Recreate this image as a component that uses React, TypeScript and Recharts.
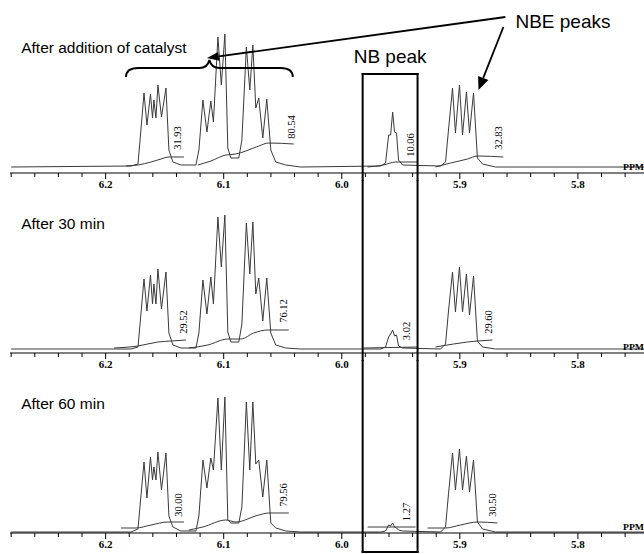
import React from 'react';
import { LineChart, Line, XAxis, YAxis, ReferenceLine, ReferenceDot } from 'recharts';

// Shared chemical-shift vertices (ppm) of the traced spectra
const ppm = [
  6.28, 6.1785, 6.1726, 6.1701, 6.1675, 6.165, 6.162, 6.1603, 6.1591, 6.1574,
  6.1557, 6.1527, 6.1489, 6.1464, 6.143, 6.1362, 6.1235, 6.121, 6.1176, 6.1142,
  6.1109, 6.1087, 6.1049, 6.102, 6.099, 6.0965, 6.0939, 6.0872, 6.0846, 6.0808,
  6.0779, 6.0753, 6.0728, 6.0703, 6.0669, 6.0635, 6.0601, 6.0559, 6.0474, 6.0347,
  5.9671, 5.9629, 5.9603, 5.9586, 5.9569, 5.9553, 5.9536, 5.9519, 5.9485, 5.9163,
  5.9121, 5.9096, 5.9062, 5.9037, 5.9003, 5.8977, 5.8944, 5.8918, 5.8884, 5.8851,
  5.8808, 5.8698, 5.744,
];

// Intensities (arbitrary units) for each spectrum
const spectrumCatalyst = [
  0, 1, 3, 37, 74, 42, 73, 49, 67, 49,
  82, 50, 79, 17, 5, 2, 2, 17, 67, 35,
  66, 45, 130, 82, 133, 19, 9, 9, 27, 120,
  77, 122, 59, 69, 29, 68, 17, 5, 2, 0,
  1, 4, 32, 32, 55, 35, 34, 7, 2, 1,
  5, 37, 79, 34, 82, 32, 75, 34, 74, 9,
  3, 0, 0,
];
const spectrum30 = [
  0, 0, 2, 35, 70, 38, 74, 45, 65, 45,
  80, 40, 77, 16, 4, 1, 1, 16, 69, 35,
  72, 45, 132, 82, 134, 17, 7, 7, 25, 126,
  75, 127, 55, 71, 28, 71, 16, 4, 1, 0,
  0, 2, 12, 15, 19, 13, 14, 3, 1, 0,
  5, 38, 77, 37, 82, 37, 75, 34, 73, 8,
  2, 0, 0,
];
const spectrum60 = [
  0, 0, 3, 36, 70, 34, 75, 52, 65, 52,
  80, 42, 79, 16, 5, 1, 1, 16, 72, 44,
  74, 62, 134, 62, 135, 12, 9, 9, 25, 130,
  62, 130, 68, 72, 35, 72, 9, 4, 1, 0,
  0, 1, 7, 6, 9, 5, 4, 2, 1, 0,
  5, 38, 79, 42, 83, 42, 76, 40, 72, 10,
  3, 0, 0,
];

// Integral traces [ppm, value]
const intCatA = [[6.1827, 1], [6.1726, 2], [6.1616, 5], [6.1531, 8], [6.1464, 10], [6.1337, 10]];
const intCatB = [[6.1219, 2], [6.1109, 6], [6.0982, 12], [6.0897, 13], [6.0813, 16], [6.0703, 21], [6.0618, 24], [6.0407, 23]];
const intCatNB = [[5.9781, 0], [5.9646, 2], [5.9544, 5], [5.9358, 5]];
const intCatNBE = [[5.9206, 0], [5.9079, 4], [5.8935, 8], [5.8851, 11], [5.8631, 10]];

const int30A = [[6.1929, 1], [6.1726, 3], [6.1557, 7], [6.1447, 8], [6.132, 9]];
const int30B = [[6.1295, 1], [6.1134, 4], [6.0965, 10], [6.0855, 10], [6.0745, 16], [6.0627, 19], [6.0449, 19]];
const int30NB = [[5.9815, 1], [5.9358, 2]];
const int30NBE = [[5.9206, 2], [5.9054, 5], [5.8935, 7], [5.8851, 8], [5.8724, 9]];

const int60A = [[6.187, 4], [6.1743, 4], [6.1616, 7], [6.1472, 10], [6.1337, 10]];
const int60B = [[6.1295, 2], [6.1176, 5], [6.0982, 12], [6.0897, 10], [6.0703, 17], [6.0618, 19], [6.0449, 19]];
const int60NB = [[5.9781, 5], [5.9375, 5]];
const int60NBE = [[5.9273, 4], [5.9121, 4], [5.8994, 7], [5.8851, 10], [5.8681, 9]];

// Integral values printed on the spectra
const valuesCatalyst = ['31.93', '80.54', '10.06', '32.83'];
const values30 = ['29.52', '76.12', '3.02', '29.60'];
const values60 = ['30.00', '79.56', '1.27', '30.50'];

// Axis ticks (ppm)
const axisTicks = [
  6.28, 6.26, 6.24, 6.22, 6.2, 6.18, 6.16, 6.14, 6.12, 6.1, 6.08, 6.06, 6.04, 6.02,
  6.0, 5.98, 5.96, 5.94, 5.92, 5.9, 5.88, 5.86, 5.84, 5.82, 5.8, 5.78, 5.76,
];

const captions = ['After addition of catalyst', 'After 30 min', 'After 60 min'];

// ---------- annotation anchors (data coordinates) ----------
const valueAnchors = [
  [[6.1388, 29], [6.0424, 40], [5.9417, 22], [5.8673, 29]],
  [[6.1337, 27], [6.0491, 38], [5.9451, 18], [5.8758, 27]],
  [[6.1379, 27], [6.0491, 37], [5.9451, 20], [5.8724, 27]],
];
const captionAnchors = [[6.2715, 114], [6.2715, 120], [6.2715, 123]];
const boxLeft = 5.9823;
const boxRight = 5.9358;

const SERIF = '"Liberation Serif", "Times New Roman", serif';
const SANS = '"Liberation Sans", Arial, sans-serif';
const X_DOMAIN: [number, number] = [5.744, 6.281];

const renderTick = (props: any) => {
  const { x, y, payload } = props;
  const v = payload.value as number;
  const major = Math.abs(v * 10 - Math.round(v * 10)) < 1e-6;
  return (
    <g>
      <line x1={x} x2={x} y1={y} y2={y + (major ? 6 : 4)} stroke="#000" strokeWidth={1} />
      {major && (
        <text x={x} y={y + 15} textAnchor="middle" fontFamily={SERIF} fontWeight="bold" fontSize={11} fill="#000">
          {v.toFixed(1)}
        </text>
      )}
    </g>
  );
};

const textShape = (text: string, size: number, family: string, anchor: string, extra: any = {}) => (p: any) => (
  <text x={p.cx} y={p.cy} fontSize={size} fontFamily={family} textAnchor={anchor} fill="#000" {...extra}>
    {text}
  </text>
);

const rotatedShape = (text: string) => (p: any) => (
  <text
    x={p.cx}
    y={p.cy}
    transform={`rotate(-90 ${p.cx} ${p.cy})`}
    textAnchor="middle"
    dominantBaseline="central"
    fontSize={10.5}
    fontFamily={SERIF}
    fill="#000"
  >
    {text}
  </text>
);

const arrowShape = (headLen: number, headHalf: number) => (p: any) => {
  const { x1, y1, x2, y2 } = p;
  const dx = x2 - x1;
  const dy = y2 - y1;
  const len = Math.hypot(dx, dy) || 1;
  const ux = dx / len;
  const uy = dy / len;
  const bx = x2 - ux * headLen;
  const by = y2 - uy * headLen;
  const pts = `${x2},${y2} ${bx - uy * headHalf},${by + ux * headHalf} ${bx + uy * headHalf},${by - ux * headHalf}`;
  return (
    <g>
      <line x1={x1} y1={y1} x2={bx} y2={by} stroke="#000" strokeWidth={1.8} />
      <polygon points={pts} fill="#000" />
    </g>
  );
};

const braceShape = (p: any) => {
  const { x1, x2, y1 } = p;
  const xm = (x1 + x2) / 2;
  const y = y1;
  const d = `M${x1},${y + 9} Q${x1},${y} ${x1 + 12},${y} L${xm - 10},${y} Q${xm - 2},${y} ${xm},${y - 8} Q${xm + 2},${y} ${xm + 10},${y} L${x2 - 12},${y} Q${x2},${y} ${x2},${y + 9}`;
  return <path d={d} fill="none" stroke="#000" strokeWidth={2} />;
};

const boxLine = (key: string, a: [number, number], b: [number, number]) => (
  <ReferenceLine
    key={key}
    segment={[{ x: a[0], y: a[1] }, { x: b[0], y: b[1] }]}
    stroke="#000"
    strokeWidth={2}
    strokeLinecap="square"
    ifOverflow="visible"
  />
);

type PanelProps = {
  top: number;
  lo: number;
  hi: number;
  spectrum: number[];
  integrals: number[][][];
  values: string[];
  anchors: number[][];
  caption: string;
  captionAt: number[];
  extras: React.ReactNode[];
};

const Panel = ({ top, lo, hi, spectrum, integrals, values, anchors, caption, captionAt, extras }: PanelProps) => {
  const specData = ppm.map((x, i) => ({ x, s: spectrum[i] }));
  return (
    <div style={{ position: 'absolute', left: 0, top }}>
      <LineChart width={644} height={193} margin={{ top: 0, right: 0, bottom: 0, left: 10 }}>
        <XAxis
          dataKey="x"
          type="number"
          domain={X_DOMAIN}
          reversed
          allowDataOverflow
          ticks={axisTicks}
          interval={0}
          tick={renderTick}
          tickLine={false}
          tickSize={0}
          tickMargin={0}
          axisLine={{ stroke: '#000', strokeWidth: 1 }}
          height={20}
        />
        <YAxis hide type="number" domain={[lo, hi]} allowDataOverflow />
        <Line data={specData} dataKey="s" type="linear" stroke="#3a3a3a" strokeWidth={1} dot={false} activeDot={false} isAnimationActive={false} />
        {integrals.map((seg, i) => {
          const key = `int${i}`;
          return (
            <Line
              key={key}
              data={seg.map(([x, v]) => ({ x, [key]: v }))}
              dataKey={key}
              type="monotone"
              stroke="#3a3a3a"
              strokeWidth={1}
              dot={false}
              activeDot={false}
              isAnimationActive={false}
            />
          );
        })}
        {values.map((t, i) => (
          <ReferenceDot key={`v${i}`} x={anchors[i][0]} y={anchors[i][1]} r={0} ifOverflow="visible" shape={rotatedShape(t)} />
        ))}
        <ReferenceDot x={captionAt[0]} y={captionAt[1]} r={0} ifOverflow="visible" shape={textShape(caption, 15.5, SANS, 'start')} />
        <ReferenceDot
          x={X_DOMAIN[0]}
          y={lo + 3}
          r={0}
          ifOverflow="visible"
          shape={textShape('PPM', 8, SERIF, 'end', { fontWeight: 'bold', textLength: 21, lengthAdjust: 'spacingAndGlyphs' })}
        />
        {extras}
      </LineChart>
    </div>
  );
};

export default function App() {
  const extras1 = [
    <ReferenceLine key="brace" segment={[{ x: 6.1827, y: 99 }, { x: 6.0415, y: 99 }]} ifOverflow="visible" shape={braceShape} />,
    <ReferenceLine key="arrowLong" segment={[{ x: 5.8614, y: 150 }, { x: 6.1142, y: 109 }]} ifOverflow="visible" shape={arrowShape(12, 4.5)} />,
    <ReferenceLine key="arrowShort" segment={[{ x: 5.8631, y: 140 }, { x: 5.8842, y: 77 }]} ifOverflow="visible" shape={arrowShape(13, 5.5)} />,
    <ReferenceDot key="nbe" x={5.8529} y={139} r={0} ifOverflow="visible" shape={textShape('NBE peaks', 19, SANS, 'start')} />,
    <ReferenceDot key="nb" x={5.9899} y={104} r={0} ifOverflow="visible" shape={textShape('NB peak', 19, SANS, 'start')} />,
    boxLine('bt', [boxLeft, 93], [boxRight, 93]),
    boxLine('bl1', [boxLeft, 93], [boxLeft, -13]),
    boxLine('br1', [boxRight, 93], [boxRight, -13]),
  ];
  const extras2 = [
    boxLine('bl2', [boxLeft, 169], [boxLeft, -11]),
    boxLine('br2', [boxRight, 169], [boxRight, -11]),
  ];
  const extras3 = [
    boxLine('bl3', [boxLeft, 172], [boxLeft, -20]),
    boxLine('br3', [boxRight, 172], [boxRight, -20]),
    boxLine('bb', [boxLeft, -20], [boxRight, -20]),
  ];
  return (
    <div style={{ position: 'absolute', left: 0, top: 0, width: 644, height: 554, background: '#fff' }}>
      <Panel
        top={0}
        lo={-6}
        hi={167}
        spectrum={spectrumCatalyst}
        integrals={[intCatA, intCatB, intCatNB, intCatNBE]}
        values={valuesCatalyst}
        anchors={valueAnchors[0]}
        caption={captions[0]}
        captionAt={captionAnchors[0]}
        extras={extras1}
      />
      <Panel
        top={180}
        lo={-4}
        hi={169}
        spectrum={spectrum30}
        integrals={[int30A, int30B, int30NB, int30NBE]}
        values={values30}
        anchors={valueAnchors[1]}
        caption={captions[1]}
        captionAt={captionAnchors[1]}
        extras={extras2}
      />
      <Panel
        top={360}
        lo={-1}
        hi={172}
        spectrum={spectrum60}
        integrals={[int60A, int60B, int60NB, int60NBE]}
        values={values60}
        anchors={valueAnchors[2]}
        caption={captions[2]}
        captionAt={captionAnchors[2]}
        extras={extras3}
      />
    </div>
  );
}
